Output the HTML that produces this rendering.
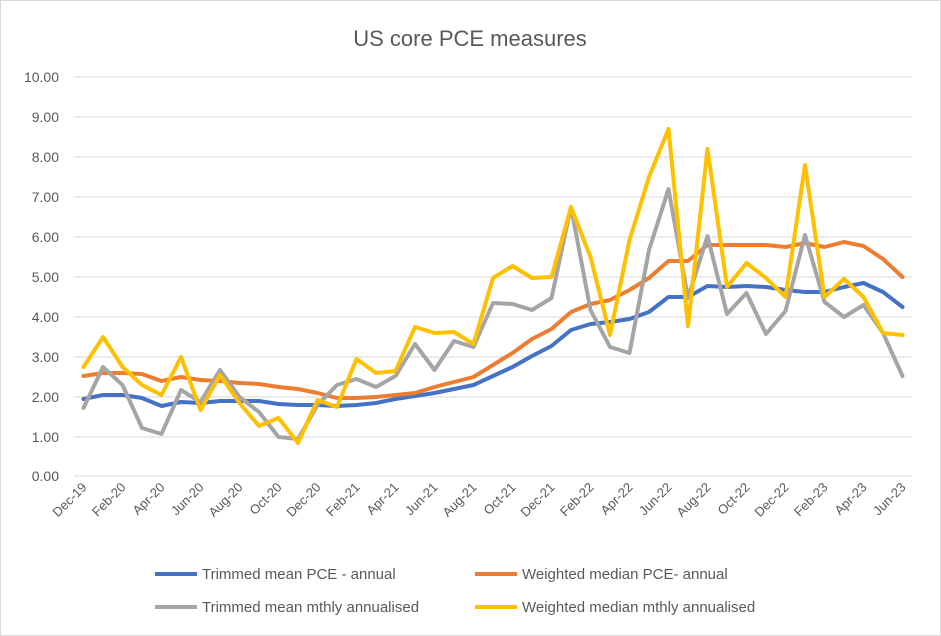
<!DOCTYPE html>
<html><head><meta charset="utf-8"><style>
body{margin:0;background:#fff;}
svg{display:block;font-family:"Liberation Sans",Arial,sans-serif;}
</style></head><body>
<svg width="941" height="636" viewBox="0 0 941 636" xmlns="http://www.w3.org/2000/svg">
<rect x="0.5" y="0.5" width="940" height="635" fill="#fff" stroke="#d9d9d9"/>
<text x="470" y="46" text-anchor="middle" font-size="22" fill="#595959">US core PCE measures</text>
<g stroke="#d9d9d9" stroke-width="1">
<line x1="74" x2="912" y1="77" y2="77"/><line x1="74" x2="912" y1="117" y2="117"/>
<line x1="74" x2="912" y1="157" y2="157"/><line x1="74" x2="912" y1="197" y2="197"/>
<line x1="74" x2="912" y1="237" y2="237"/><line x1="74" x2="912" y1="277" y2="277"/>
<line x1="74" x2="912" y1="317" y2="317"/><line x1="74" x2="912" y1="357" y2="357"/>
<line x1="74" x2="912" y1="397" y2="397"/><line x1="74" x2="912" y1="437" y2="437"/>
<line x1="74" x2="912" y1="476" y2="476"/>
</g>
<g font-size="14" fill="#595959" text-anchor="end">
<text x="59" y="82">10.00</text><text x="59" y="122">9.00</text><text x="59" y="162">8.00</text>
<text x="59" y="202">7.00</text><text x="59" y="242">6.00</text><text x="59" y="282">5.00</text>
<text x="59" y="322">4.00</text><text x="59" y="362">3.00</text><text x="59" y="402">2.00</text>
<text x="59" y="442">1.00</text><text x="59" y="481">0.00</text>
</g>
<g font-size="13" fill="#595959" text-anchor="end">
<text transform="translate(87.5,488) rotate(-45)">Dec-19</text>
<text transform="translate(126.5,488) rotate(-45)">Feb-20</text>
<text transform="translate(165.5,488) rotate(-45)">Apr-20</text>
<text transform="translate(204.5,488) rotate(-45)">Jun-20</text>
<text transform="translate(243.5,488) rotate(-45)">Aug-20</text>
<text transform="translate(282.5,488) rotate(-45)">Oct-20</text>
<text transform="translate(321.5,488) rotate(-45)">Dec-20</text>
<text transform="translate(360.5,488) rotate(-45)">Feb-21</text>
<text transform="translate(399.5,488) rotate(-45)">Apr-21</text>
<text transform="translate(438.5,488) rotate(-45)">Jun-21</text>
<text transform="translate(477.5,488) rotate(-45)">Aug-21</text>
<text transform="translate(516.5,488) rotate(-45)">Oct-21</text>
<text transform="translate(555.5,488) rotate(-45)">Dec-21</text>
<text transform="translate(594.5,488) rotate(-45)">Feb-22</text>
<text transform="translate(633.5,488) rotate(-45)">Apr-22</text>
<text transform="translate(672.5,488) rotate(-45)">Jun-22</text>
<text transform="translate(711.5,488) rotate(-45)">Aug-22</text>
<text transform="translate(750.5,488) rotate(-45)">Oct-22</text>
<text transform="translate(789.5,488) rotate(-45)">Dec-22</text>
<text transform="translate(828.5,488) rotate(-45)">Feb-23</text>
<text transform="translate(867.5,488) rotate(-45)">Apr-23</text>
<text transform="translate(906.5,488) rotate(-45)">Jun-23</text>
</g>
<g fill="none" stroke-width="4" stroke-linejoin="round" stroke-linecap="round">
<polyline id="blue" stroke="#4472c4"/>
<polyline id="orange" stroke="#ed7d31"/>
<polyline id="grey" stroke="#a5a5a5"/>
<polyline id="yellow" stroke="#ffc000"/>
</g>
<g font-size="15" fill="#595959">
<line x1="155" x2="197" y1="574" y2="574" stroke="#4472c4" stroke-width="4"/>
<text x="202" y="579">Trimmed mean PCE - annual</text>
<line x1="475" x2="517" y1="574" y2="574" stroke="#ed7d31" stroke-width="4"/>
<text x="522" y="579">Weighted median PCE- annual</text>
<line x1="155" x2="197" y1="607" y2="607" stroke="#a5a5a5" stroke-width="4"/>
<text x="202" y="612">Trimmed mean mthly annualised</text>
<line x1="475" x2="517" y1="607" y2="607" stroke="#ffc000" stroke-width="4"/>
<text x="522" y="612">Weighted median mthly annualised</text>
</g>
<script>
var x0=83.5,st=19.5;
var d={
blue:[399,395,395,398,406,402,403,401,401,401,404,405,405,406,405,403,399,396,393,389,385,376,367,356,346,330,324,322,319,312,297,297,286,287,286,287,290,292,292,287,283,292,307],
orange:[376,373,373,374,381,377,380,381,383,384,387,389,393,398,398,397,395,393,387,382,377,365,353,339,329,312,304,300,290,278,261,261,245,245,245,245,247,243,247,242,246,259,277],
grey:[408,367,385,428,434,390,402,370,397,412,437,439,405,385,379,387,376,344,370,341,347,303,304,310,298,207,310,347,353,250,189,298,236,314,293,334,311,235,302,317,305,333,376],
yellow:[367,337,367,385,395,357,410,375,403,426,418,443,400,407,359,373,371,327,333,332,344,278,266,278,277,207,257,335,240,177,129,326,149,287,263,278,297,165,297,279,297,333,335]};
for(var k in d){document.getElementById(k).setAttribute('points',d[k].map(function(v,i){return (x0+i*st).toFixed(1)+','+v}).join(' '));}
</script>
</svg>
</body></html>
